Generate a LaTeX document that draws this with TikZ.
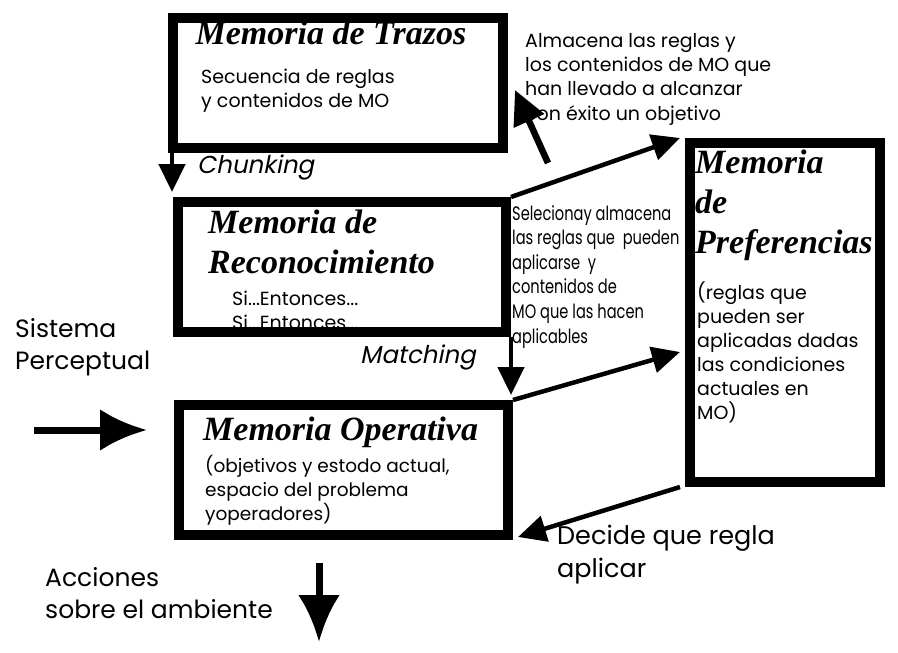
\documentclass[tikz,border=0pt]{standalone}
\usepackage{fontspec}
\setmainfont{Poppins}
\newfontfamily\titlefont{Liberation Serif}
\newfontfamily\narrowfont[FakeStretch=0.75]{Poppins}
\newfontfamily\slantfont[FakeSlant=0.2]{Poppins}
\usetikzlibrary{arrows.meta}

\tikzset{
  memo/.style={draw, line width=10pt, inner sep=0pt, anchor=north west},
  titulo/.style={font=\titlefont\bfseries\itshape\fontsize{34}{40}\selectfont, inner sep=0pt, align=left},
  texto/.style={font=\fontsize{19}{24}\selectfont, inner sep=0pt, anchor=north west, align=left},
  angosto/.style={font=\narrowfont\fontsize{19.5}{24.6}\selectfont, inner sep=0pt, anchor=north west, align=left},
  grande/.style={font=\fontsize{25}{32}\selectfont, inner sep=0pt, anchor=north west, align=left},
  inclinado/.style={font=\slantfont\fontsize{24.5}{28}\selectfont, inner sep=0pt, anchor=west},
  flecha/.style={line width=4.5pt, -{Triangle[length=28pt,width=26pt]}},
  gruesa/.style={line width=7pt, -{Latex[length=47pt,width=42pt]}}
}

\begin{document}
\begin{tikzpicture}[x=1pt,y=-1pt]
       \useasboundingbox (0,0) rectangle (898,653);

       %lineas cortadas por el borde
       \node[texto] (recc) at (232,291) {Si...Entonces...\\Si...Entonces...};

       %cajas
       \node[memo, minimum width=330pt, minimum height=130pt] (traz) at (168,13) {};
       \node[memo, minimum width=328pt, minimum height=130pt] (rec) at (173,197) {};
       \node[memo, minimum width=329pt, minimum height=130pt] (op) at (174,400) {};
       \node[memo, minimum width=190pt, minimum height=339pt] (pref) at (685,138) {};

       %titulos
       \node[titulo, anchor=base] (trazt) at (331,44) {Memoria de Trazos};
       \node[titulo, anchor=north west] (rect) at (208,210) {Memoria de\\Reconocimiento};
       \node[titulo, anchor=base west] (opt) at (203,440) {Memoria Operativa};
       \node[titulo, anchor=north west] (preft) at (695,150) {Memoria\\de\\Preferencias};

       %contenidos
       \node[texto] (trazc) at (201,69) {Secuencia de reglas\\y contenidos de MO};
       \node[texto, font=\fontsize{18.5}{24}\selectfont] (opc) at (205,455) {(objetivos y estodo actual,\\espacio del problema\\yoperadores)};
       \node[texto] (prefc) at (697,282) {(reglas que\\pueden ser\\aplicadas dadas\\las condiciones\\actuales en\\MO)};

       %notas
       \node[texto, font=\fontsize{19}{24.3}\selectfont] (almac) at (525,33) {Almacena las reglas y\\los contenidos de MO que\\han llevado a alcanzar\\con éxito un objetivo};
       \node[angosto] (selec) at (512,205) {Selecionay almacena\\las reglas que\ \ pueden\\aplicarse\ \ y\\contenidos de\\MO que las hacen\\aplicables};
       \node[inclinado] (chunk) at (197,167) {Chunking};
       \node[inclinado] (match) at (360,357) {Matching};
       \node[grande] (sist) at (15,318) {Sistema\\Perceptual};
       \node[grande] (acc) at (45,567) {Acciones\\sobre el ambiente};
       \node[grande, font=\fontsize{25.5}{33}\selectfont] (decide) at (557,525) {Decide que regla\\aplicar};

       %flechas
       \draw[flecha] ([xshift=4pt]traz.south west) -- ([xshift=4pt,yshift=5pt]traz.south west |- rec.north);
       \draw[flecha] (rec.south east) -- ([yshift=5pt]rec.south east |- op.north);
       \draw[flecha] (rec.north east) -- ([xshift=-5pt]pref.north west);
       \draw[flecha] (op.north east) -- ([xshift=-5pt,yshift=-39.5pt]pref.west);
       \draw[flecha] ([xshift=-5pt]pref.south west) -- ([xshift=5pt,yshift=3pt]op.south east);
       \coordinate (exito) at (548,163);
       \draw[line width=6.5pt, -{Triangle[length=34pt,width=32pt]}] (exito) -- ([xshift=7pt,yshift=-7pt]traz.east);
       \coordinate (percin) at (34,430);
       \coordinate (perctip) at (147,430);
       \draw[gruesa] (percin) -- (perctip);
       \coordinate (accsal) at (319,563);
       \coordinate (accfin) at (319,642);
       \draw[gruesa] (accsal) -- (accfin);

\end{tikzpicture}
\end{document}
